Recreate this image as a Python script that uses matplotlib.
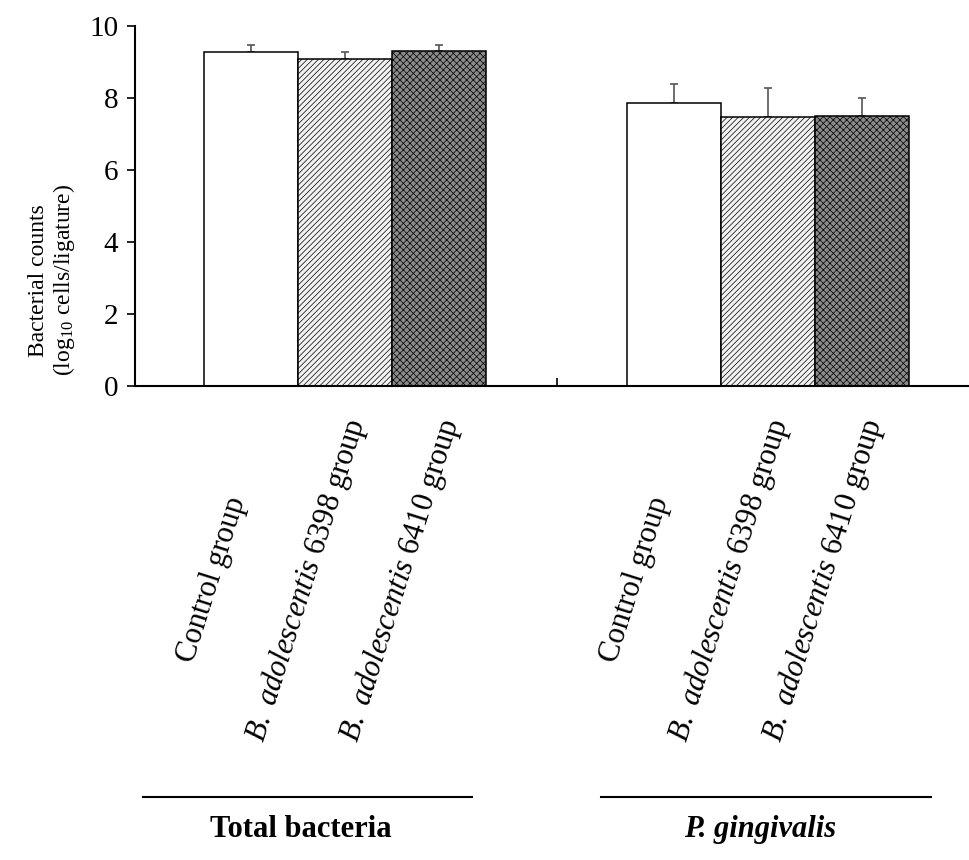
import numpy as np
import matplotlib
matplotlib.use("Agg")
import matplotlib.pyplot as plt
import matplotlib.transforms as mtransforms
from matplotlib.lines import Line2D

# -----------------------
# Data
# -----------------------
groups = ["Total bacteria", "P. gingivalis"]
series = ["Control group",
          r"$\mathit{B.\ adolescentis}$ 6398 group",
          r"$\mathit{B.\ adolescentis}$ 6410 group"]
control = [9.28, 7.87]
b6398 = [9.07, 7.48]
b6410 = [9.30, 7.49]
control_sd = [0.19, 0.51]
b6398_sd = [0.21, 0.80]
b6410_sd = [0.17, 0.51]

# -----------------------
# Style
# -----------------------
plt.rcParams["font.family"] = ["Liberation Serif", "DejaVu Serif"]
plt.rcParams["mathtext.fontset"] = "custom"
plt.rcParams["mathtext.rm"] = "Liberation Serif"
plt.rcParams["mathtext.it"] = "Liberation Serif:italic"
plt.rcParams["mathtext.bf"] = "Liberation Serif:bold"
plt.rcParams["hatch.linewidth"] = 0.5

fig = plt.figure(figsize=(9.69, 8.6), dpi=100)
ax = fig.add_axes([0.1393, 0.5512, 0.8607, 0.4186])

x = np.arange(len(groups))
w = 0.222
offsets = [-w, 0.0, w]
values = [control, b6398, b6410]
sds = [control_sd, b6398_sd, b6410_sd]
faces = ["white", "#f2f2f2", "#8a8a8a"]
hatches = [None, "//////", "xxxxx"]

for off, vals, sd, fc, h in zip(offsets, values, sds, faces, hatches):
    ax.bar(x + off, vals, width=w, color=fc, edgecolor="black",
           linewidth=1.1, hatch=h, zorder=2)
    ax.errorbar(x + off, vals, yerr=[np.zeros(len(sd)), sd], fmt="none",
                ecolor="#555555", elinewidth=1.2, capsize=3, capthick=1.2,
                zorder=1)

ax.set_xlim(-0.4965, 1.475)
ax.set_ylim(0, 10)
ax.set_yticks([0, 2, 4, 6, 8, 10])
ax.tick_params(axis="y", direction="out", length=6, width=1.2,
               labelsize=21, pad=6)
ax.set_xticks([0.5])
ax.set_xticklabels([])
ax.tick_params(axis="x", direction="in", length=6, width=1.2)
for s in ["top", "right"]:
    ax.spines[s].set_visible(False)
for s in ["left", "bottom"]:
    ax.spines[s].set_linewidth(1.5)

ax.set_ylabel("Bacterial counts\n" + r"(log$_{10}$ cells/ligature)",
              fontsize=17, multialignment="center", linespacing=1.1)
ax.yaxis.set_label_coords(-0.07, 0.294)

# -----------------------
# Rotated bar labels
# -----------------------
trans = mtransforms.blended_transform_factory(ax.transData, fig.transFigure)
for gi in range(len(groups)):
    for off, lab in zip(offsets, series):
        ax.text(x[gi] + off - 0.092, 0.3256, lab, transform=trans,
                rotation=72.5, rotation_mode="anchor", ha="center",
                va="center", fontsize=22, clip_on=False)

# -----------------------
# Group lines and names
# -----------------------
group_shift = [-0.089, -0.005]
for gi, name in enumerate(groups):
    c = x[gi] + group_shift[gi]
    fig.add_artist(Line2D([c - 0.389, c + 0.389], [0.0733, 0.0733],
                          transform=trans, color="black", linewidth=1.5))
    style = "italic" if gi == 1 else "normal"
    ax.text(c - 0.015, 0.035, name, transform=trans, ha="center",
            va="center", fontsize=22, fontweight="bold", fontstyle=style,
            clip_on=False)

fig.savefig("out.png", dpi=100)
